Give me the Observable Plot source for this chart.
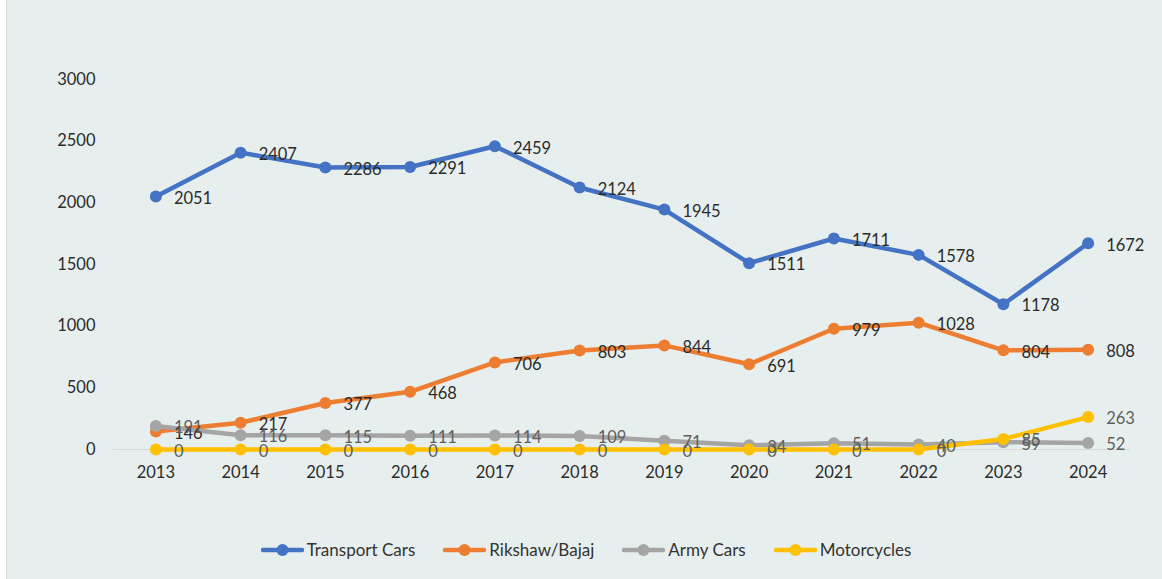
<!DOCTYPE html>
<html>
<head>
<meta charset="utf-8">
<script src="https://cdn.jsdelivr.net/npm/d3@7"></script>
<script src="https://cdn.jsdelivr.net/npm/@observablehq/plot@0.6"></script>
<style>
  html, body { margin: 0; padding: 0; background: #ffffff; }
  #wrap { position: relative; width: 1162px; height: 579px; overflow: hidden; font-family: Lato, "Open Sans", sans-serif; }
  #bg { position: absolute; left: 6px; top: 0; width: 1156px; height: 579px; background: #e7efee; border-left: 1px solid #d4d8d8; box-sizing: border-box; }
  #chart { position: absolute; left: 0; top: 0; }
  #legend { position: absolute; left: 0; top: 539px; width: 1172px; display: flex; justify-content: center; gap: 28px; font-size: 17px; color: #333; }
  .item { display: flex; align-items: center; gap: 3px; }
</style>
</head>
<body>
<div id="wrap">
  <div id="bg"></div>
  <div id="chart"></div>
  <div id="legend"></div>
</div>
<script>
const years = [2013, 2014, 2015, 2016, 2017, 2018, 2019, 2020, 2021, 2022, 2023, 2024];
const seriesNames = ["Transport Cars", "Rikshaw/Bajaj", "Army Cars", "Motorcycles"];
const transportCars = [2051, 2407, 2286, 2291, 2459, 2124, 1945, 1511, 1711, 1578, 1178, 1672];
const rikshawBajaj = [146, 217, 377, 468, 706, 803, 844, 691, 979, 1028, 804, 808];
const armyCars = [191, 116, 115, 111, 114, 109, 71, 34, 51, 40, 59, 52];
const motorcycles = [0, 0, 0, 0, 0, 0, 0, 0, 0, 0, 85, 263];
const yTicks = [0, 500, 1000, 1500, 2000, 2500, 3000];
const colors = ["#4472C4", "#ED7D31", "#A5A5A5", "#FFC000"];
const labelColors = ["#2b2b2b", "#2b2b2b", "#5f5f5f", "#5f5f5f"];

const valuesBySeries = [transportCars, rikshawBajaj, armyCars, motorcycles];
const data = [];
seriesNames.forEach((s, i) => {
  years.forEach((y, j) => data.push({series: s, year: y, value: valuesBySeries[i][j], labelColor: labelColors[i]}));
});

const chart = Plot.plot({
  width: 1162,
  height: 500,
  marginLeft: 113,
  marginRight: 32,
  marginTop: 79,
  marginBottom: 51,
  style: { background: "transparent", fontFamily: "Lato, 'Open Sans', sans-serif", fontSize: "16.5px", color: "#2b2b2b" },
  x: { type: "linear", domain: [2012.5, 2024.5], ticks: years, tickFormat: d => String(d), tickSize: 0, tickPadding: 17, label: null },
  y: { domain: [0, 3000], ticks: yTicks, tickFormat: d => String(d), tickSize: 0, tickPadding: 18, label: null },
  color: { domain: seriesNames, range: colors },
  marks: [
    Plot.ruleY([0], { stroke: "#d6d9d9", strokeWidth: 1 }),
    Plot.line(data, { x: "year", y: "value", z: "series", stroke: "series", strokeWidth: 4.5, strokeLinejoin: "round", strokeLinecap: "round" }),
    Plot.dot(data, { x: "year", y: "value", fill: "series", r: 6, stroke: null }),
    Plot.text(data, { x: "year", y: "value", text: d => String(d.value), fill: "labelColor", textAnchor: "start", dx: 18, dy: 2, fontSize: 16.5 })
  ]
});
document.getElementById("chart").appendChild(chart);

const legend = document.getElementById("legend");
seriesNames.forEach((s, i) => {
  const item = document.createElement("div");
  item.className = "item";
  item.innerHTML = `<svg width="43" height="14"><line x1="2" y1="7" x2="41" y2="7" stroke="${colors[i]}" stroke-width="4.5" stroke-linecap="round"/><circle cx="21.5" cy="7" r="6" fill="${colors[i]}"/></svg><span>${s}</span>`;
  legend.appendChild(item);
});
</script>
</body>
</html>
